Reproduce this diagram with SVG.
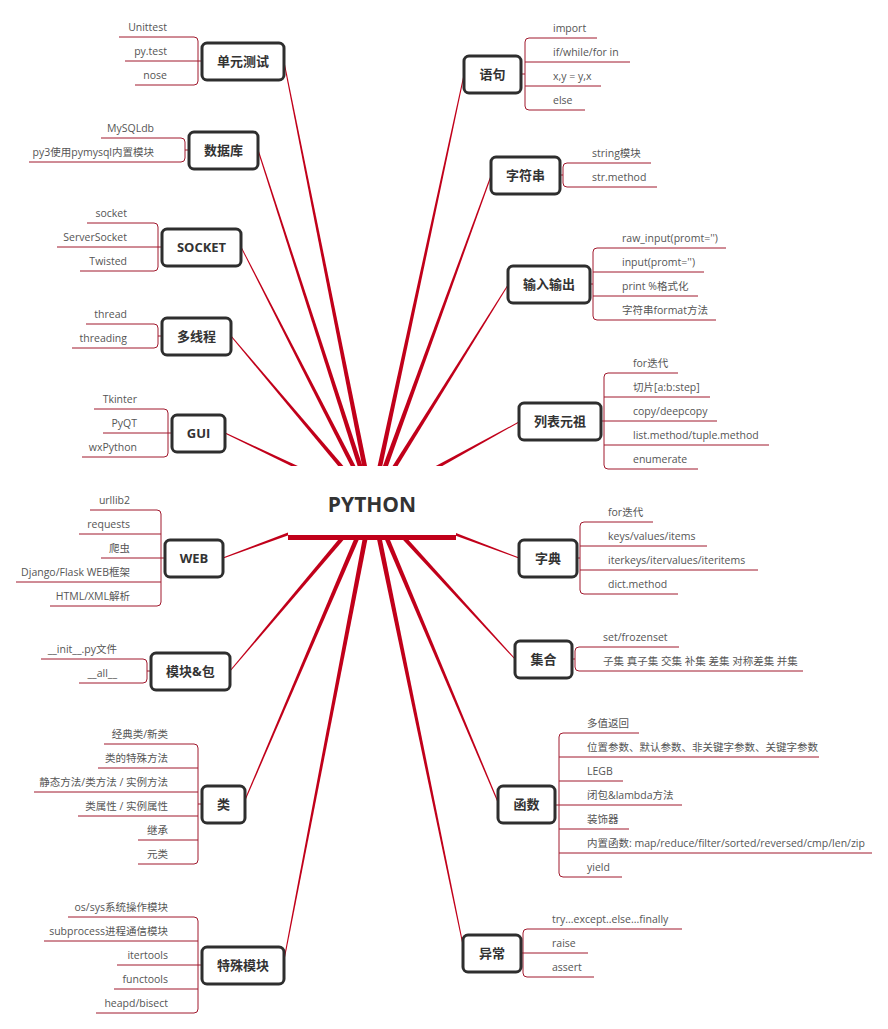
<svg xmlns="http://www.w3.org/2000/svg" width="888" height="1029" viewBox="0 0 888 1029">
<style>
.box{fill:#fff;stroke:#2e2e2e;stroke-width:3}
.t{font-family:"Open Sans","Noto Sans CJK SC",sans-serif;font-weight:bold;font-size:13px;fill:#333;text-anchor:middle}
.s{font-family:"Open Sans","Noto Sans CJK SC",sans-serif;font-size:10.5px;fill:#555}
.l{text-anchor:end}
.br{fill:none;stroke:#a0182c;stroke-width:1}
.c{fill:#c1001a}
</style>
<rect width="888" height="1029" fill="#fff"/>
<g id="connectors">
<polygon class="c" points="374.5,502.5 284.5,61.9 283.5,62.1 369.5,503.5"/>
<polygon class="c" points="374.4,502.2 258.5,149.8 257.5,150.2 369.6,503.8"/>
<polygon class="c" points="374.2,501.9 241.4,246.8 240.6,247.2 369.8,504.1"/>
<polygon class="c" points="373.9,501.4 231.4,335.7 230.6,336.3 370.1,504.6"/>
<polygon class="c" points="373.1,500.7 225.2,432.5 224.8,433.5 370.9,505.3"/>
<polygon class="c" points="371.1,500.7 222.8,557.5 223.2,558.5 372.9,505.3"/>
<polygon class="c" points="370.1,501.4 229.6,670.7 230.4,671.3 373.9,504.6"/>
<polygon class="c" points="369.7,502.0 244.5,799.8 245.5,800.2 374.3,504.0"/>
<polygon class="c" points="369.5,502.5 283.5,959.9 284.5,960.1 374.5,503.5"/>
<polygon class="c" points="374.4,503.5 464.5,75.1 463.5,74.9 369.6,502.5"/>
<polygon class="c" points="374.4,503.9 491.5,176.2 490.5,175.8 369.6,502.1"/>
<polygon class="c" points="374.1,504.3 508.4,285.3 507.6,284.7 369.9,501.7"/>
<polygon class="c" points="373.2,505.2 519.2,422.4 518.8,421.6 370.8,500.8"/>
<polygon class="c" points="371.1,505.3 518.8,558.5 519.2,557.5 372.9,500.7"/>
<polygon class="c" points="370.2,504.7 514.6,659.3 515.4,658.7 373.8,501.3"/>
<polygon class="c" points="369.7,504.0 497.5,802.2 498.5,801.8 374.3,502.0"/>
<polygon class="c" points="369.5,503.5 462.5,945.1 463.5,944.9 374.5,502.5"/>
</g>
<g id="python">
<rect x="288" y="466" width="168" height="69" fill="#fff"/>
<rect x="288" y="535" width="168" height="5" fill="#c1001a"/>
<text x="372" y="512" font-family="'Open Sans',sans-serif" font-weight="bold" font-size="21" fill="#333" text-anchor="middle">PYTHON</text>
</g>
<g id="n-unittest">
<path class="br" d="M119,37 H194 Q198,37 198,41 V81 Q198,85 194,85 H135 M125,61 H202"/>
<rect class="box" x="202" y="43" width="82" height="37" rx="5"/>
<text class="t" x="243" y="66">单元测试</text>
<text class="s l" x="167" y="31">Unittest</text>
<text class="s l" x="167" y="55">py.test</text>
<text class="s l" x="167" y="79">nose</text>
</g>
<g id="n-db">
<path class="br" d="M101,138 H181 Q185,138 185,142 V158 Q185,162 181,162 H29 M185,150 H189"/>
<rect class="box" x="189" y="132" width="69" height="37" rx="5"/>
<text class="t" x="223.5" y="155">数据库</text>
<text class="s l" x="154" y="132">MySQLdb</text>
<text class="s l" x="154" y="156">py3使用pymysql内置模块</text>
</g>
<g id="n-socket">
<path class="br" d="M87,223 H154 Q158,223 158,227 V267 Q158,271 154,271 H80 M57,247 H162"/>
<rect class="box" x="162" y="229" width="79" height="37" rx="5"/>
<text class="t" x="201.5" y="252">SOCKET</text>
<text class="s l" x="127" y="217">socket</text>
<text class="s l" x="127" y="241">ServerSocket</text>
<text class="s l" x="127" y="265">Twisted</text>
</g>
<g id="n-thread">
<path class="br" d="M86,324 H154 Q158,324 158,328 V344 Q158,348 154,348 H72 M158,336 H162"/>
<rect class="box" x="162" y="318" width="69" height="37" rx="5"/>
<text class="t" x="196.5" y="341">多线程</text>
<text class="s l" x="127" y="318">thread</text>
<text class="s l" x="127" y="342">threading</text>
</g>
<g id="n-gui">
<path class="br" d="M94,409 H164 Q168,409 168,413 V453 Q168,457 164,457 H82 M103,433 H172"/>
<rect class="box" x="172" y="415" width="53" height="37" rx="5"/>
<text class="t" x="198.5" y="438">GUI</text>
<text class="s l" x="137" y="403">Tkinter</text>
<text class="s l" x="137" y="427">PyQT</text>
<text class="s l" x="137" y="451">wxPython</text>
</g>
<g id="n-web">
<path class="br" d="M90,510 H157 Q161,510 161,514 V602 Q161,606 157,606 H50 M79,534 H161 M101,558 H165 M16,582 H161"/>
<rect class="box" x="165" y="540" width="58" height="37" rx="5"/>
<text class="t" x="194" y="563">WEB</text>
<text class="s l" x="130" y="504">urllib2</text>
<text class="s l" x="130" y="528">requests</text>
<text class="s l" x="130" y="552">爬虫</text>
<text class="s l" x="130" y="576">Django/Flask WEB框架</text>
<text class="s l" x="130" y="600">HTML/XML解析</text>
</g>
<g id="n-module">
<path class="br" d="M41,659 H143 Q147,659 147,663 V679 Q147,683 143,683 H79 M147,671 H151"/>
<rect class="box" x="151" y="653" width="79" height="37" rx="5"/>
<text class="t" x="190.5" y="676">模块&amp;包</text>
<text class="s l" x="117" y="653">__init__.py文件</text>
<text class="s l" x="117" y="677">__all__</text>
</g>
<g id="n-class">
<path class="br" d="M104,744 H194 Q198,744 198,748 V860 Q198,864 194,864 H138 M98,768 H198 M34,792 H198 M78,816 H198 M138,840 H198 M198,804 H202"/>
<rect class="box" x="202" y="786" width="43" height="37" rx="5"/>
<text class="t" x="223.5" y="809">类</text>
<text class="s l" x="168" y="738">经典类/新类</text>
<text class="s l" x="168" y="762">类的特殊方法</text>
<text class="s l" x="168" y="786">静态方法/类方法 / 实例方法</text>
<text class="s l" x="168" y="810">类属性 / 实例属性</text>
<text class="s l" x="168" y="834">继承</text>
<text class="s l" x="168" y="858">元类</text>
</g>
<g id="n-special">
<path class="br" d="M68,917 H194 Q198,917 198,921 V1009 Q198,1013 194,1013 H96 M44,941 H198 M117,965 H202 M114,989 H198"/>
<rect class="box" x="202" y="947" width="82" height="37" rx="5"/>
<text class="t" x="243" y="970">特殊模块</text>
<text class="s l" x="168" y="911">os/sys系统操作模块</text>
<text class="s l" x="168" y="935">subprocess进程通信模块</text>
<text class="s l" x="168" y="959">itertools</text>
<text class="s l" x="168" y="983">functools</text>
<text class="s l" x="168" y="1007">heapd/bisect</text>
</g>
<g id="n-stmt">
<path class="br" d="M597,38 H529 Q525,38 525,42 V106 Q525,110 529,110 H585 M630,62 H525 M601,86 H525 M521,74 H525"/>
<rect class="box" x="464" y="56" width="57" height="37" rx="5"/>
<text class="t" x="492.5" y="79">语句</text>
<text class="s" x="553" y="32">import</text>
<text class="s" x="553" y="56">if/while/for in</text>
<text class="s" x="553" y="80">x,y = y,x</text>
<text class="s" x="553" y="104">else</text>
</g>
<g id="n-string">
<path class="br" d="M651,163 H567 Q563,163 563,167 V183 Q563,187 567,187 H657 M560,175 H563"/>
<rect class="box" x="491" y="157" width="69" height="37" rx="5"/>
<text class="t" x="525.5" y="180">字符串</text>
<text class="s" x="592" y="157">string模块</text>
<text class="s" x="592" y="181">str.method</text>
</g>
<g id="n-io">
<path class="br" d="M726,248 H597 Q593,248 593,252 V316 Q593,320 597,320 H716 M704,272 H593 M698,296 H593 M590,284 H593"/>
<rect class="box" x="508" y="266" width="82" height="37" rx="5"/>
<text class="t" x="549" y="289">输入输出</text>
<text class="s" x="622" y="242">raw_input(promt='')</text>
<text class="s" x="622" y="266">input(promt='')</text>
<text class="s" x="622" y="290">print %格式化</text>
<text class="s" x="622" y="314">字符串format方法</text>
</g>
<g id="n-list">
<path class="br" d="M678,373 H608 Q604,373 604,377 V465 Q604,469 608,469 H698 M710,397 H604 M717,421 H601 M769,445 H604"/>
<rect class="box" x="519" y="403" width="82" height="37" rx="5"/>
<text class="t" x="560" y="426">列表元祖</text>
<text class="s" x="633" y="367">for迭代</text>
<text class="s" x="633" y="391">切片[a:b:step]</text>
<text class="s" x="633" y="415">copy/deepcopy</text>
<text class="s" x="633" y="439">list.method/tuple.method</text>
<text class="s" x="633" y="463">enumerate</text>
</g>
<g id="n-dict">
<path class="br" d="M653,522 H584 Q580,522 580,526 V590 Q580,594 584,594 H678 M707,546 H580 M758,570 H580 M577,558 H580"/>
<rect class="box" x="519" y="540" width="58" height="37" rx="5"/>
<text class="t" x="548" y="563">字典</text>
<text class="s" x="608" y="516">for迭代</text>
<text class="s" x="608" y="540">keys/values/items</text>
<text class="s" x="608" y="564">iterkeys/itervalues/iteritems</text>
<text class="s" x="608" y="588">dict.method</text>
</g>
<g id="n-set">
<path class="br" d="M679,647 H579 Q575,647 575,651 V667 Q575,671 579,671 H803 M572,659 H575"/>
<rect class="box" x="515" y="641" width="57" height="37" rx="5"/>
<text class="t" x="543.5" y="664">集合</text>
<text class="s" x="603" y="641">set/frozenset</text>
<text class="s" x="603" y="665">子集 真子集 交集 补集 差集 对称差集 并集</text>
</g>
<g id="n-func">
<path class="br" d="M639,733 H563 Q559,733 559,737 V873 Q559,877 563,877 H622 M819,757 H559 M623,781 H559 M682,805 H555 M629,829 H559 M872,853 H559"/>
<rect class="box" x="498" y="786" width="57" height="37" rx="5"/>
<text class="t" x="526.5" y="809">函数</text>
<text class="s" x="587" y="727">多值返回</text>
<text class="s" x="587" y="751">位置参数、默认参数、非关键字参数、关键字参数</text>
<text class="s" x="587" y="775">LEGB</text>
<text class="s" x="587" y="799">闭包&amp;lambda方法</text>
<text class="s" x="587" y="823">装饰器</text>
<text class="s" x="587" y="847">内置函数: map/reduce/filter/sorted/reversed/cmp/len/zip</text>
<text class="s" x="587" y="871">yield</text>
</g>
<g id="n-except">
<path class="br" d="M682,929 H527 Q523,929 523,933 V973 Q523,977 527,977 H594 M588,953 H521"/>
<rect class="box" x="463" y="935" width="58" height="37" rx="5"/>
<text class="t" x="492" y="958">异常</text>
<text class="s" x="552" y="923">try...except..else...finally</text>
<text class="s" x="552" y="947">raise</text>
<text class="s" x="552" y="971">assert</text>
</g>
</svg>
